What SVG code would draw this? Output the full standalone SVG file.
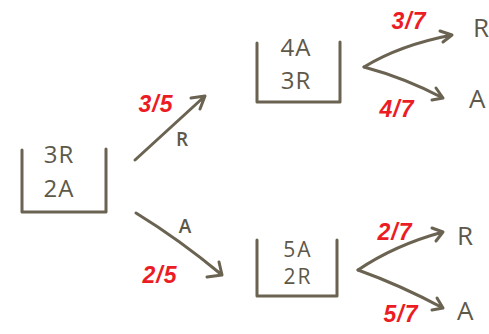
<svg xmlns="http://www.w3.org/2000/svg" width="489" height="334" viewBox="0 0 489 334">
<defs>
<style>
.box{fill:none;stroke:#6b6352;stroke-width:3;stroke-linecap:round;stroke-linejoin:round}
.c{fill:none;stroke:#6b6352;stroke-width:3;stroke-linecap:round;stroke-linejoin:round}
.t{font-family:"Open Sans","Liberation Sans",sans-serif;fill:#5e5849;font-size:24px;letter-spacing:1px}
.s{font-size:21px;letter-spacing:2px}
.l{font-family:"Open Sans","Liberation Sans",sans-serif;fill:#5e5849;font-size:19px;font-weight:600}
.e{font-family:"Open Sans","Liberation Sans",sans-serif;fill:#5e5849;font-size:26px}
.p{font-family:"Liberation Sans",sans-serif;fill:#ec1c24;font-size:23px;font-weight:bold;font-style:italic;letter-spacing:1px}
</style>
</defs>
<rect width="489" height="334" fill="#ffffff"/>
<g id="start">
<path class="box" d="M22 150 V212 H106 V149"/>
<text class="t" x="59" y="163" text-anchor="middle">3R</text>
<text class="t" x="59" y="197" text-anchor="middle">2A</text>
</g>
<g id="top">
<path class="box" d="M257 43 V102 H340 V42"/>
<text class="t" x="296" y="56" text-anchor="middle">4A</text>
<text class="t" x="296" y="89" text-anchor="middle">3R</text>
</g>
<g id="bottom">
<path class="box" d="M257 240 V296 H337 V240"/>
<text class="t s" x="298" y="257" text-anchor="middle">5A</text>
<text class="t s" x="298" y="284" text-anchor="middle">2R</text>
</g>
<g id="connectors">
<path class="c" d="M135 160 L205 96 M191 98 L205 96 L200 109"/>
<path class="c" d="M136 213 Q180 240 222 275 M207 277 L222 275 L219 262"/>
<path class="c" d="M364 67 Q400 45 452 35 M440 31 L452 35 L443 42"/>
<path class="c" d="M364 67 Q405 78 443 98 M436 88 L443 98 L432 100"/>
<path class="c" d="M358 270 Q395 245 443 232 M432 228 L443 232 L436 241"/>
<path class="c" d="M358 270 Q400 285 443 308 M437 298 L443 308 L432 310"/>
</g>
<g id="labels">
<text class="l" x="182" y="146" text-anchor="middle">R</text>
<text class="l" x="185" y="233" text-anchor="middle">A</text>
<text class="p" x="156" y="112" text-anchor="middle">3/5</text>
<text class="p" x="160" y="283" text-anchor="middle">2/5</text>
<text class="p" x="409" y="29" text-anchor="middle">3/7</text>
<text class="p" x="397" y="117" text-anchor="middle">4/7</text>
<text class="p" x="395" y="240" text-anchor="middle">2/7</text>
<text class="p" x="401" y="322" text-anchor="middle">5/7</text>
</g>
<g id="leafR1"><text class="e" x="473" y="37">R</text></g>
<g id="leafA1"><text class="e" x="469" y="108">A</text></g>
<g id="leafR2"><text class="e" x="457" y="245">R</text></g>
<g id="leafA2"><text class="e" x="457" y="320">A</text></g>
</svg>
